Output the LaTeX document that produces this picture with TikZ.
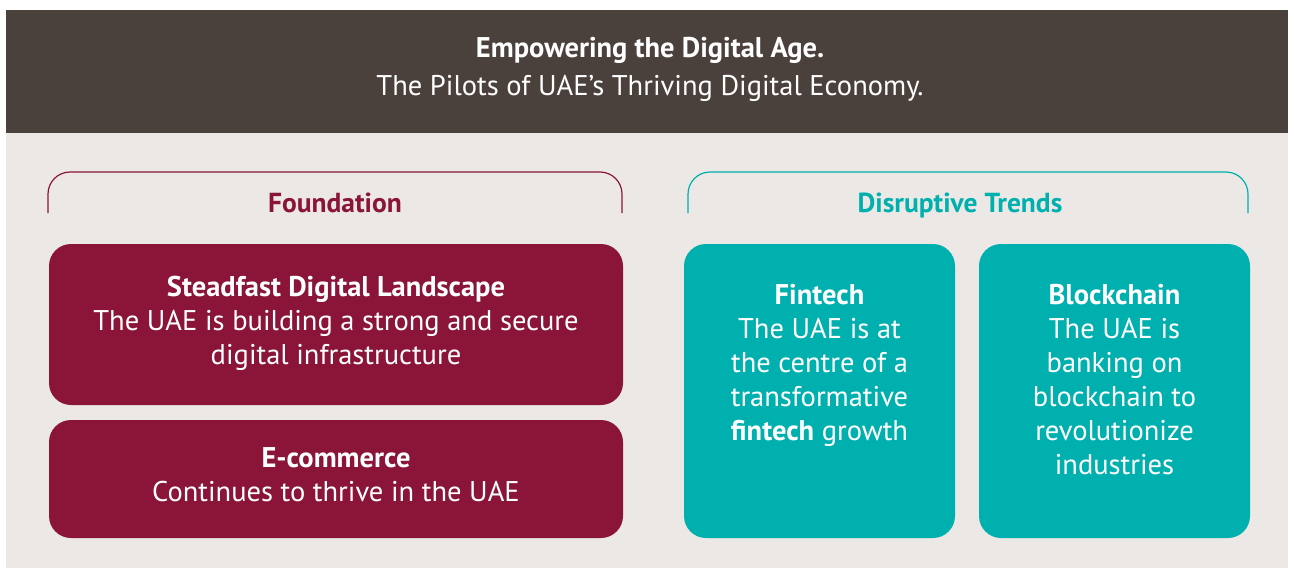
\documentclass[tikz,border=0pt]{standalone}
\usepackage{fontspec}
\setmainfont{PT Sans}
\definecolor{hdr}{HTML}{4B413C}
\definecolor{bg}{HTML}{ECE8E5}
\definecolor{maroon}{HTML}{8A1538}
\definecolor{teal}{HTML}{00B0AE}
\tikzset{
  bodytext/.style={text=white, align=center, font=\fontsize{28.5}{34}\selectfont, inner sep=0pt},
  bracket/.style={line width=1.2pt, rounded corners=22pt},
  headlabel/.style={font=\fontsize{27.5}{30}\selectfont\bfseries, inner sep=0pt, anchor=base}
}
\begin{document}
\begin{tikzpicture}[x=1pt,y=-1pt]
\useasboundingbox (0,0) rectangle (1294,573);
\fill[white] (0,0) rectangle (1294,573);
\fill[bg] (6,133) rectangle (1288,568);
\fill[hdr] (6,10) rectangle (1288,133);
\node[text=white, align=center, font=\fontsize{28.5}{38}\selectfont, inner sep=0pt] (title) at (650,69)
  {\textbf{Empowering the Digital Age.}\\The Pilots of UAE’s Thriving Digital Economy.};
% brackets
\coordinate (fl) at (48,213); \coordinate (fr) at (622,213);
\draw[bracket, maroon] (fl) -- (48,172) -- (622,172) -- (fr);
\node[headlabel, text=maroon] (found) at (335,212.5) {Foundation};
\coordinate (dl) at (688,213); \coordinate (dr) at (1248,213);
\draw[bracket, teal] (dl) -- (688,172) -- (1248,172) -- (dr);
\node[headlabel, text=teal] (disr) at (960,212.5) {Disruptive Trends};
% boxes
\fill[maroon, rounded corners=22pt] (49,244) rectangle (623,405);
\node[bodytext] (steadfast) at (336,323) {\textbf{Steadfast Digital Landscape}\\The UAE is building a strong and secure\\digital infrastructure};
\fill[maroon, rounded corners=22pt] (49,420) rectangle (623,538);
\node[bodytext] (ecom) at (336,475) {\textbf{E-commerce}\\Continues to thrive in the UAE};
\fill[teal, rounded corners=22pt] (684,244) rectangle (955,538);
\node[bodytext, anchor=north] (fintech) at (819.5,284.5) {\textbf{Fintech}\\The UAE is at\\the centre of a\\transformative\\\textbf{fintech} growth};
\fill[teal, rounded corners=22pt] (979,244) rectangle (1250,538);
\node[bodytext, anchor=north] (block) at (1114.5,284.5) {\textbf{Blockchain}\\The UAE is\\banking on\\blockchain to\\revolutionize\\industries};
\end{tikzpicture}
\end{document}
